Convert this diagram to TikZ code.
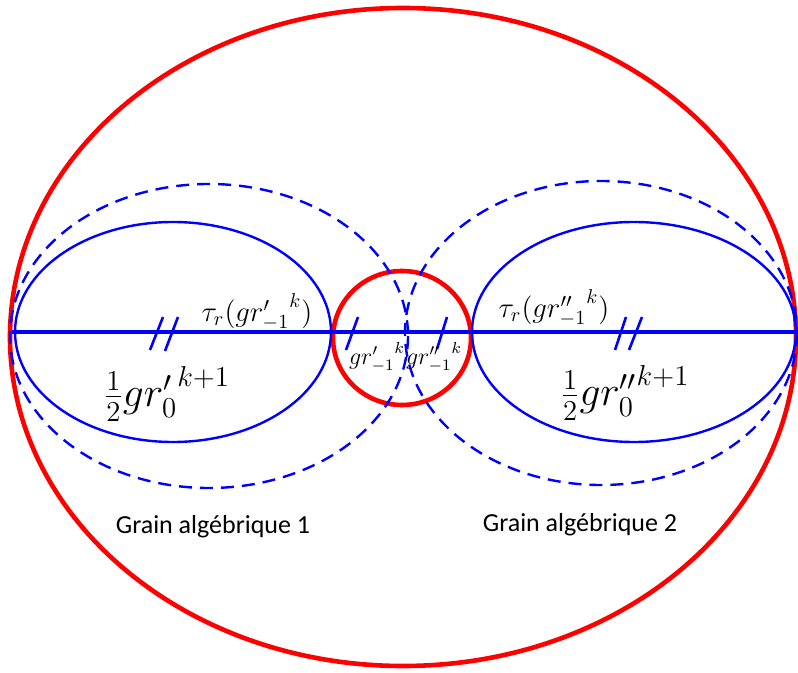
\documentclass[tikz,border=0pt]{standalone}
\usepackage{amsmath}
\usepackage{fontspec}
\newfontfamily\grainfont{Carlito}
\usepackage{tikz}
\usetikzlibrary{calc}
\tikzset{
  grain/.style={draw=red, line width=2.3pt},
  axe/.style={draw=blue, line width=1.7pt},
  lien/.style={draw=blue, line width=1.2pt},
  zone/.style={draw=blue, line width=1.2pt, dash pattern=on 6.5pt off 4pt},
  tick/.style={draw=blue, line width=1.3pt},
  lab/.style={inner sep=0pt, text=black},
  glab/.style={inner sep=0pt, font=\grainfont\fontsize{13}{15}\selectfont},
}

\begin{document}
\begin{tikzpicture}[x=0.5pt, y=-0.5pt]
\useasboundingbox (0,0) rectangle (798,673);

% --- outer boundary and joint ---
\draw[grain] (403,337) ellipse [x radius=393, y radius=329];
\draw[grain] (402,338) circle [x radius=69, y radius=67];

% --- axis between the two grains ---
\coordinate (A) at (12,332);
\coordinate (B) at (800,332);
\draw[axe] (A) -- (B);

% --- grain 1 ---
\draw[lien] (173,332) ellipse [x radius=158, y radius=110];
\draw[zone] (209,336) ellipse [x radius=199, y radius=152];

% --- grain 2 ---
\draw[lien] (634,332) ellipse [x radius=162, y radius=110];
\draw[zone] (601,333) ellipse [x radius=196, y radius=152];

% ticks
\draw[tick] (150,350) -- (163,317);
\draw[tick] (165,351) -- (178,317);
\draw[tick] (615,350) -- (626,317);
\draw[tick] (629,350) -- (642,317);
\draw[tick] (346,350) -- (358,317);
\draw[tick] (437,349) -- (447,317);

% labels
\node[lab, font=\Large] (tauL) at (257,312) {$\tau_r({gr'_{-1}}^{k})$};
\node[lab, font=\Large] (tauR) at (554,308) {$\tau_r({gr''_{-1}}^{k})$};
\node[lab, font=\huge] (halfL) at (167,394) {$\frac{1}{2}{gr'_0}^{k+1}$};
\node[lab, font=\huge] (halfR) at (625,393) {$\frac{1}{2}{gr''_0}^{k+1}$};
\node[lab, font=\large] (grL) at (377,357) {${gr'_{-1}}^{k}$};
\node[lab, font=\large] (grR) at (434,357) {${gr''_{-1}}^{k}$};

\node[glab] (grain1) at (213,527) {Grain algébrique 1};
\node[glab] (grain2) at (580,525) {Grain algébrique 2};

\end{tikzpicture}
\end{document}
